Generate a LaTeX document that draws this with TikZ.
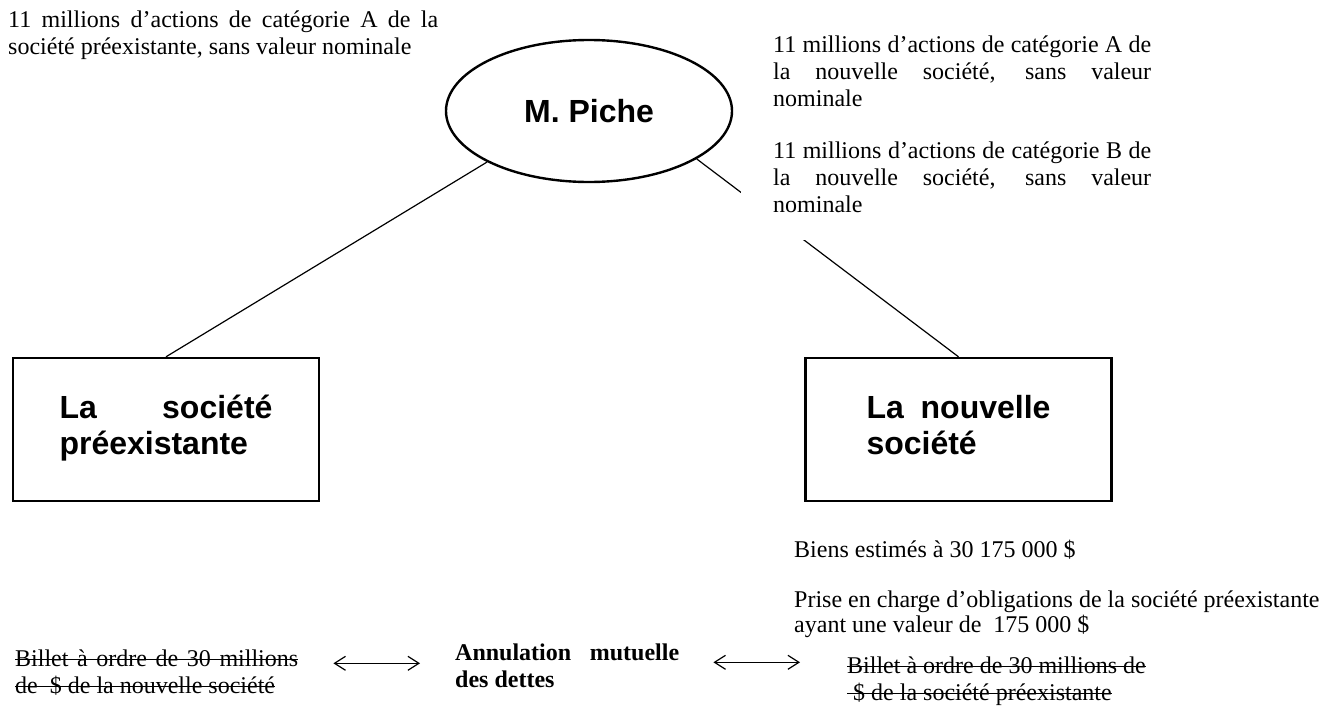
\documentclass[tikz,border=0pt]{standalone}
\usepackage{fontspec}
\setmainfont{Liberation Serif}
\setsansfont{Liberation Sans}
\usetikzlibrary{shapes,arrows.meta}
\newsavebox{\strikebox}
\newcommand{\struck}[1]{\sbox{\strikebox}{#1}\rlap{\rule[0.24em]{\wd\strikebox}{1.2pt}}\usebox{\strikebox}}

\begin{document}
\begin{tikzpicture}[x=1pt, y=-1pt, auto]
  \tikzstyle{person} = [ellipse, draw, line width=2.4pt,
    minimum width=286pt, minimum height=142pt,
    font=\sffamily\bfseries\fontsize{32}{36}\selectfont]
  \tikzstyle{company} = [rectangle, draw, line width=2.4pt, align=justify,
    minimum width=306pt, minimum height=143pt,
    font=\sffamily\bfseries\fontsize{32}{36}\selectfont]
  \tikzstyle{note} = [anchor=north west, inner sep=0pt, align=justify,
    font=\fontsize{24}{27}\selectfont]
  \tikzstyle{line} = [draw, line width=1.2pt]
  \tikzstyle{exchange} = [draw, line width=1.2pt,
    {Straight Barb[length=11pt,width=14pt]}-{Straight Barb[length=11pt,width=14pt]}]

  \useasboundingbox (0,0) rectangle (1337,707);

  % Place nodes
  \node [person] (piche) at (589,111) {M. Piche};
  \node [company, text width=213pt] (oldco) at (166,429.5) {\strut La société\linebreak préexistante\strut};
  \node [company, text width=184pt, right of=oldco, node distance=792.5pt] (newco) {\strut La nouvelle\linebreak société\strut};

  % Draw edges
  \path [line] (piche.south west) -- (oldco.north);
  \path [line] (piche.-24) -- (newco.north);

  % Shares
  \node [note, text width=430pt] (sharesold) at (8,8.1) {\strut 11 millions d’actions de catégorie A de la\linebreak société préexistante, sans valeur nominale};
  \node [note, text width=378pt] (sharesa) at (773,33.1) {\strut 11 millions d’actions de catégorie A de\linebreak la nouvelle société, sans valeur\linebreak nominale};
  \node [note, text width=378pt, fill=white, inner xsep=32pt, inner ysep=20pt] (sharesb) at (741,119.1) {\strut 11 millions d’actions de catégorie B de\linebreak la nouvelle société, sans valeur\linebreak nominale\strut};

  % Transfer
  \node [note, align=left] (biens) at (794,538.1) {\strut Biens estimés à 30~175~000~\$};
  \node [note, align=left, font=\fontsize{24}{25}\selectfont] (charge) at (794,589.5) {\strut Prise en charge d’obligations de la société préexistante\\ayant une valeur de~ 175~000~\$};

  % Debts
  \node [note, align=left] (billeta) at (15,647.1) {\strut\struck{\makebox[283pt][s]{Billet à ordre de 30 millions}}\\\struck{de\ \ \$ de la nouvelle société}};
  \node [note, text width=224pt, font=\fontsize{24}{27}\selectfont\bfseries] (annul) at (455,641.1) {\strut Annulation mutuelle\linebreak des dettes\strut};
  \node [note, align=left] (billetb) at (847,654.1) {\strut\struck{Billet à ordre de 30 millions de}\\\struck{\ \$ de la société préexistante}};

  % Draw arrows
  \path [exchange, shorten <=35pt, shorten >=35pt] ([yshift=5pt]billeta.east |- annul.west) -- ([yshift=5pt]annul.west);
  \path [exchange, shorten <=34pt, shorten >=47pt] ([yshift=6pt]annul.east) -- ([yshift=6pt]annul.east -| billetb.west);
\end{tikzpicture}
\end{document}
